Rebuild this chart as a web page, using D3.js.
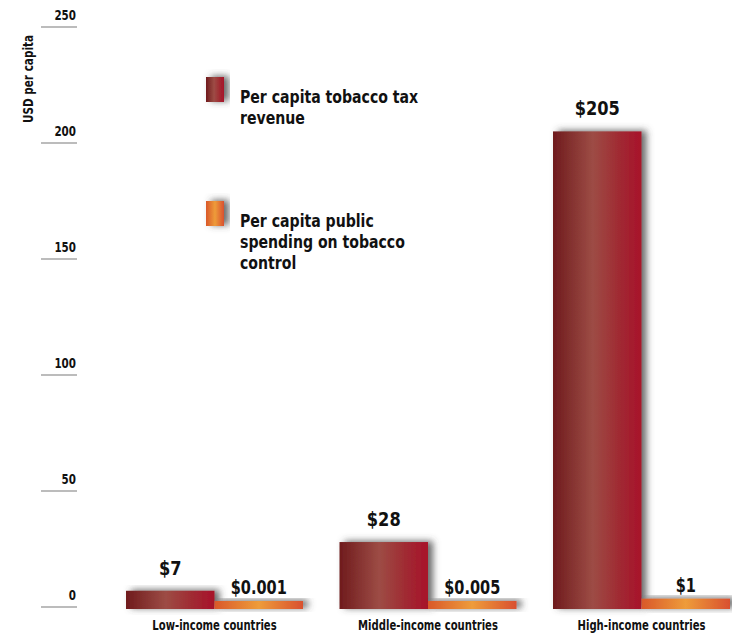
<!DOCTYPE html>
<html>
<head>
<meta charset="utf-8">
<script src="https://cdn.jsdelivr.net/npm/d3@7"></script>
<style>
  html, body { margin: 0; padding: 0; background: #ffffff; }
  svg { display: block; }
  text { font-family: "DejaVu Sans Condensed", "Liberation Sans Narrow", sans-serif; font-weight: bold; fill: #111; }
</style>
</head>
<body>
<svg id="chart" width="732" height="634"></svg>
<script>
// ---- data ----
const categories = ["Low-income countries", "Middle-income countries", "High-income countries"];
const seriesNames = ["Per capita tobacco tax revenue", "Per capita public spending on tobacco control"];
const taxRevenue = [7, 28, 205];
const controlSpending = [0.001, 0.005, 1];
const taxLabels = ["$7", "$28", "$205"];
const spendingLabels = ["$0.001", "$0.005", "$1"];
const yTicks = [0, 50, 100, 150, 200, 250];
const yTitle = "USD per capita";
const legendLines = [["Per capita tobacco tax", "revenue"], ["Per capita public", "spending on tobacco", "control"]];

// ---- layout ----
const svg = d3.select("#chart");
const defs = svg.append("defs");

const y = d3.scaleLinear().domain([0, 250]).range([607, 27]);
const x = d3.scaleBand().domain(categories).range([126, 730]).paddingInner(0.171).paddingOuter(0);
const xs = d3.scaleBand().domain([0, 1]).range([0, x.bandwidth()]);

// condensed text helper: horizontal squeeze keeps glyph height
function ctext(sel, px, py, k, size, anchor, str, rot) {
  const g = sel.append("g").attr("transform", `translate(${px},${py})` + (rot ? ` rotate(${rot})` : "") + ` scale(${k},1)`);
  return g.append("text").attr("font-size", size).attr("text-anchor", anchor || "start").text(str);
}

// gradients
const gRed = defs.append("linearGradient").attr("id", "gRed").attr("x1", "0").attr("x2", "1").attr("y1", "0").attr("y2", "0");
[["0%", "#6f1b1d"], ["45%", "#9d4c45"], ["75%", "#a02a32"], ["100%", "#a8122b"]].forEach(([o, c]) => gRed.append("stop").attr("offset", o).attr("stop-color", c));
const gOr = defs.append("linearGradient").attr("id", "gOr").attr("x1", "0").attr("x2", "1").attr("y1", "0").attr("y2", "0");
[["0%", "#d9582a"], ["50%", "#ee9c3a"], ["100%", "#d9502f"]].forEach(([o, c]) => gOr.append("stop").attr("offset", o).attr("stop-color", c));

const f = defs.append("filter").attr("id", "shadow").attr("x", "-30%").attr("y", "-30%").attr("width", "160%").attr("height", "160%");
f.append("feDropShadow").attr("dx", 5).attr("dy", -1).attr("stdDeviation", 3.5).attr("flood-color", "#444").attr("flood-opacity", 0.8);

// y axis ticks
const tickG = svg.append("g");
yTicks.forEach(d => {
  tickG.append("line").attr("x1", 41).attr("x2", 77).attr("y1", y(d)).attr("y2", y(d))
    .attr("stroke", "#7a7a7a").attr("stroke-width", 1.2);
  ctext(tickG, 76, y(d) - 7, 0.82, 14, "end", d);
});

ctext(svg, 33, 79, 0.83, 14, "middle", yTitle, -90);

// bars
const base = y(0) + 2;
const minThick = 6;
const groups = svg.append("g").selectAll("g").data(categories).join("g")
  .attr("transform", d => `translate(${x(d)},0)`);

groups.append("rect")
  .attr("x", xs(0)).attr("width", xs.bandwidth())
  .attr("y", (d, i) => y(taxRevenue[i])).attr("height", (d, i) => base - y(taxRevenue[i]))
  .attr("fill", "url(#gRed)").attr("filter", "url(#shadow)");
groups.append("rect")
  .attr("x", xs(1)).attr("width", xs.bandwidth())
  .attr("y", (d, i) => y(controlSpending[i]) - minThick).attr("height", (d, i) => base - y(controlSpending[i]) + minThick)
  .attr("fill", "url(#gOr)").attr("filter", "url(#shadow)");

// value labels & category labels
groups.each(function(d, i) {
  const g = d3.select(this);
  ctext(g, xs(0) + xs.bandwidth() / 2, y(taxRevenue[i]) - 16, 0.95, 19, "middle", taxLabels[i]);
  ctext(g, xs(1) + xs.bandwidth() / 2, y(controlSpending[i]) - minThick - 7, 0.85, 19, "middle", spendingLabels[i]);
  ctext(g, x.bandwidth() / 2, 630, 0.8, 14, "middle", d);
});

// legend
const legendY = [77, 201];
const fills = ["url(#gRed)", "url(#gOr)"];
const lg = svg.append("g");
seriesNames.forEach((name, i) => {
  lg.append("rect").attr("x", 206).attr("width", 18).attr("y", legendY[i]).attr("height", 25)
    .attr("fill", fills[i]).attr("filter", "url(#shadow)");
  const t = ctext(lg, 240, legendY[i] + 26, 0.87, 18, "start", null);
  legendLines[i].forEach((ln, j) => t.append("tspan").attr("x", 0).attr("dy", j === 0 ? 0 : 21).text(ln));
});
</script>
</body>
</html>
